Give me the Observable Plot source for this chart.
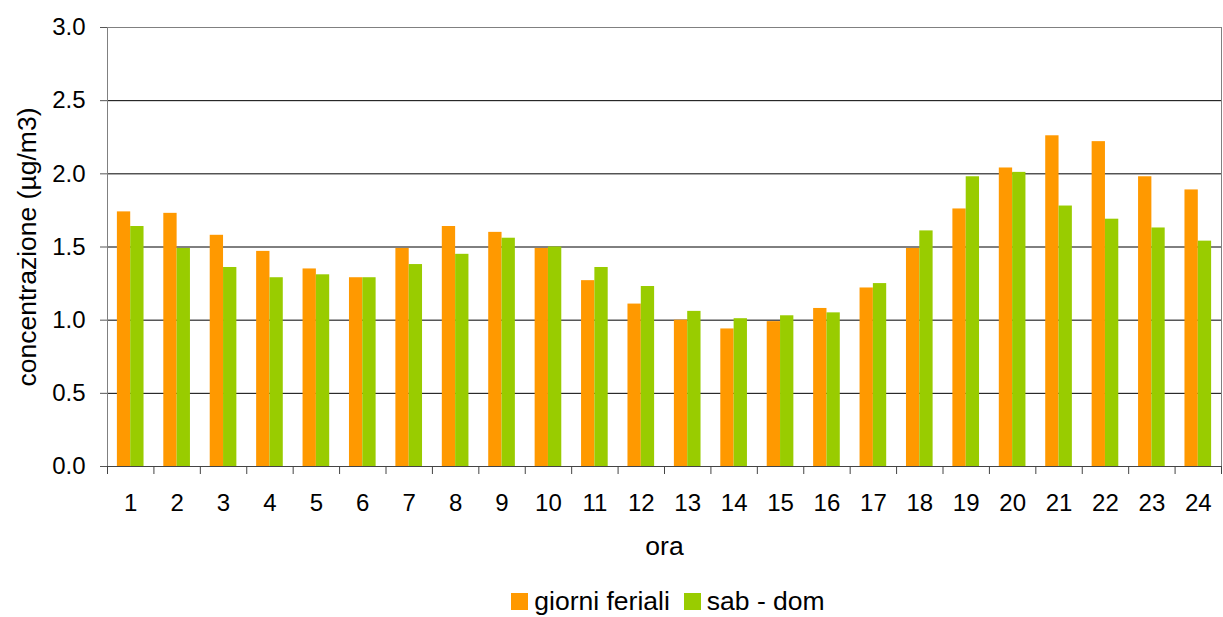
<!DOCTYPE html>
<html>
<head>
<meta charset="utf-8">
<script src="https://cdn.jsdelivr.net/npm/d3@7"></script>
<script src="https://cdn.jsdelivr.net/npm/@observablehq/plot@0.6"></script>
<style>
  body { margin: 0; background: #fff; font-family: "Liberation Sans", Arial, sans-serif; }
  #legend { display: flex; justify-content: center; align-items: center; margin-left: 111px; width: 1114px; height: 42px; font-size: 26.5px; line-height: 1; color: #000; }
  #legend .item { display: flex; align-items: center; margin: 0 7px; }
  #legend .sw { width: 17px; height: 17px; margin-right: 6px; }
</style>
</head>
<body>
<div id="chart"></div>
<div id="legend"></div>
<script>
// ---- data ----
const hours = [1,2,3,4,5,6,7,8,9,10,11,12,13,14,15,16,17,18,19,20,21,22,23,24];
const giorniFeriali = [1.74,1.73,1.58,1.47,1.35,1.29,1.49,1.64,1.60,1.49,1.27,1.11,1.00,0.94,0.99,1.08,1.22,1.49,1.76,2.04,2.26,2.22,1.98,1.89];
const sabDom = [1.64,1.49,1.36,1.29,1.31,1.29,1.38,1.45,1.56,1.50,1.36,1.23,1.06,1.01,1.03,1.05,1.25,1.61,1.98,2.01,1.78,1.69,1.63,1.54];
const seriesNames = ["giorni feriali", "sab - dom"];
const seriesColors = ["#FF9900", "#99CC00"];
const yTicks = [0, 0.5, 1.0, 1.5, 2.0, 2.5, 3.0];
const yLabel = "concentrazione (µg/m3)";
const xLabel = "ora";

// ---- build ----
const rows = hours.map((h, i) => ({hour: h, feriali: giorniFeriali[i], weekend: sabDom[i]}));
const bounds = hours.map(h => h - 0.5).concat([hours[hours.length - 1] + 0.5]);
const bw = 0.287; // bar width as fraction of an hour slot

const font = '"Liberation Sans", Arial, sans-serif';
const chart = Plot.plot({
  width: 1223,
  height: 580,
  marginLeft: 107,
  marginRight: 2,
  marginTop: 27,
  marginBottom: 114,
  style: {fontSize: "24px", fontFamily: font, color: "#000", background: "#fff"},
  x: {domain: [bounds[0], bounds[bounds.length - 1]]},
  y: {domain: [0, 3]},
  marks: [
    Plot.ruleY(yTicks.slice(1, -1), {stroke: "#000", strokeWidth: 1}),
    Plot.rectY(rows, {x1: d => d.hour - bw, x2: d => d.hour, y: "feriali", fill: seriesColors[0]}),
    Plot.rectY(rows, {x1: d => d.hour, x2: d => d.hour + bw, y: "weekend", fill: seriesColors[1]}),
    Plot.frame({stroke: "#808080"}),
    Plot.ruleY([0], {stroke: "#444"}),
    Plot.axisY({ticks: yTicks, tickFormat: d3.format(".1f"), tickSize: 7, tickPadding: 15, stroke: "#555", label: null, fontSize: 24}),
    Plot.axisX({ticks: bounds, tickSize: 8, tickFormat: () => "", stroke: "#444", label: null}),
    Plot.axisX({ticks: hours, tickSize: 0, tickPadding: 27, tickFormat: d => String(d), label: null, fontSize: 24}),
    Plot.text([xLabel], {text: d => d, frameAnchor: "bottom", dy: 88, fontSize: 26.5}),
    Plot.text([yLabel], {text: d => d, frameAnchor: "left", textAnchor: "middle", rotate: -90, dx: -80, fontSize: 26.5})
  ]
});
document.getElementById("chart").appendChild(chart);

// ---- legend ----
const legend = document.getElementById("legend");
seriesNames.forEach((name, i) => {
  const item = document.createElement("div");
  item.className = "item";
  const sw = document.createElement("span");
  sw.className = "sw";
  sw.style.background = seriesColors[i];
  const label = document.createElement("span");
  label.textContent = name;
  item.appendChild(sw);
  item.appendChild(label);
  legend.appendChild(item);
});
</script>
</body>
</html>
